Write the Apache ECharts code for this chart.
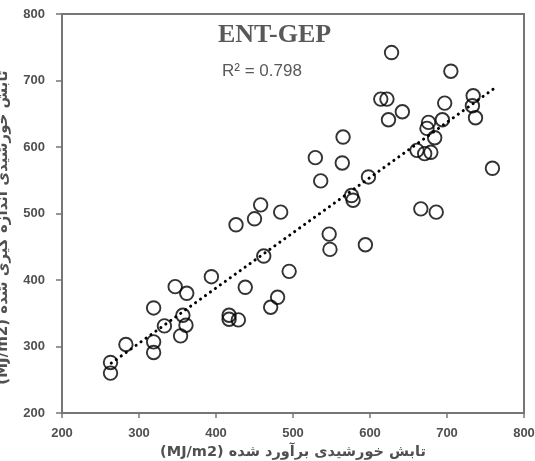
<!DOCTYPE html>
<html>
<head>
<meta charset="utf-8">
<script src="https://cdn.jsdelivr.net/npm/echarts@6/dist/echarts.min.js"></script>
<style>html,body{margin:0;padding:0;background:#fff}#c{width:535px;height:461px}</style>
</head>
<body>
<div id="c"></div>
<script>
// Estimated (MJ/m2) on x, measured (MJ/m2) on y
const xValues = [263,263,283,319,319,319,333,347,362,357,361,354,394,417,417,429,438,462,471,480,495,426,450,458,484,536,529,565,564,598,576,578,547,548,594,628,705,614,622,642,624,697,734,733,737,694,676,674,684,661,671,679,759,666,686];
const yValues = [276,260,303,307,291,358,331,390,380,347,332,316,405,347,341,340,389,436,359,374,413,483,492,513,502,549,584,615,576,555,527,520,469,446,453,742,714,672,672,653,641,666,677,662,644,641,637,628,614,595,590,592,568,507,502];
// Dotted linear trend line endpoints
const trendX = [264, 760];
const trendY = [275, 687];
const xTicks = [200, 800, 100];
const yTicks = [200, 800, 100];
const titleText = 'ENT-GEP';
const r2Text = 'R\u00B2 = 0.798';
const xName = '(MJ/m2) تابش خورشیدی برآورد شده';
const yName = '(MJ/m2) تابش خورشیدی اندازه گیری شده';

const points = xValues.map((x, i) => [x, yValues[i]]);
const trend = trendX.map((x, i) => [x, trendY[i]]);

const chart = echarts.init(document.getElementById('c'), null, {renderer: 'canvas'});
const axisCol = '#767676';
const lblStyle = {color: '#505050', fontFamily: 'Liberation Sans', fontWeight: 'bold', fontSize: 13};
chart.setOption({
  animation: false,
  title: [
    {text: titleText, left: 218, top: 22, padding: 0,
     textStyle: {fontFamily: 'Liberation Serif', fontWeight: 'bold', fontSize: 26, color: '#595959'}},
    {text: r2Text, left: 222, top: 63, padding: 0,
     textStyle: {fontFamily: 'Liberation Sans', fontWeight: 'normal', fontSize: 17, color: '#595959'}}
  ],
  grid: {left: 62, top: 14, right: 11, bottom: 48, containLabel: false, outerBoundsMode: 'none',
         show: true, borderColor: axisCol, borderWidth: 2, backgroundColor: 'transparent'},
  xAxis: {
    type: 'value', min: xTicks[0], max: xTicks[1], interval: xTicks[2],
    axisLine: {show: true, lineStyle: {color: axisCol, width: 2}},
    axisTick: {show: true, inside: false, length: 5, lineStyle: {color: axisCol, width: 1.5}},
    splitLine: {show: false},
    axisLabel: Object.assign({margin: 14}, lblStyle),
    name: xName, nameLocation: 'middle', nameGap: 28,
    nameTextStyle: {fontFamily: 'DejaVu Sans', fontWeight: 'bold', fontSize: 14.5, color: '#505050'}
  },
  yAxis: {
    type: 'value', min: yTicks[0], max: yTicks[1], interval: yTicks[2],
    axisLine: {show: true, lineStyle: {color: axisCol, width: 2}},
    axisTick: {show: true, inside: false, length: 6, lineStyle: {color: axisCol, width: 1.5}},
    splitLine: {show: false},
    axisLabel: Object.assign({margin: 17}, lblStyle),
    name: yName, nameLocation: 'middle', nameGap: 51,
    nameTextStyle: {fontFamily: 'DejaVu Sans', fontWeight: 'bold', fontSize: 15, color: '#505050', padding: [0, 28, 0, 0]}
  },
  series: [
    {type: 'scatter', data: points, symbol: 'circle', symbolSize: 13.5,
     itemStyle: {color: 'rgba(0,0,0,0)', borderColor: '#000', borderWidth: 1.9}},
    {type: 'line', data: trend, symbol: 'none', silent: true,
     lineStyle: {color: '#000', width: 3, type: [0.1, 6], cap: 'round'}}
  ]
});
</script>
</body>
</html>
